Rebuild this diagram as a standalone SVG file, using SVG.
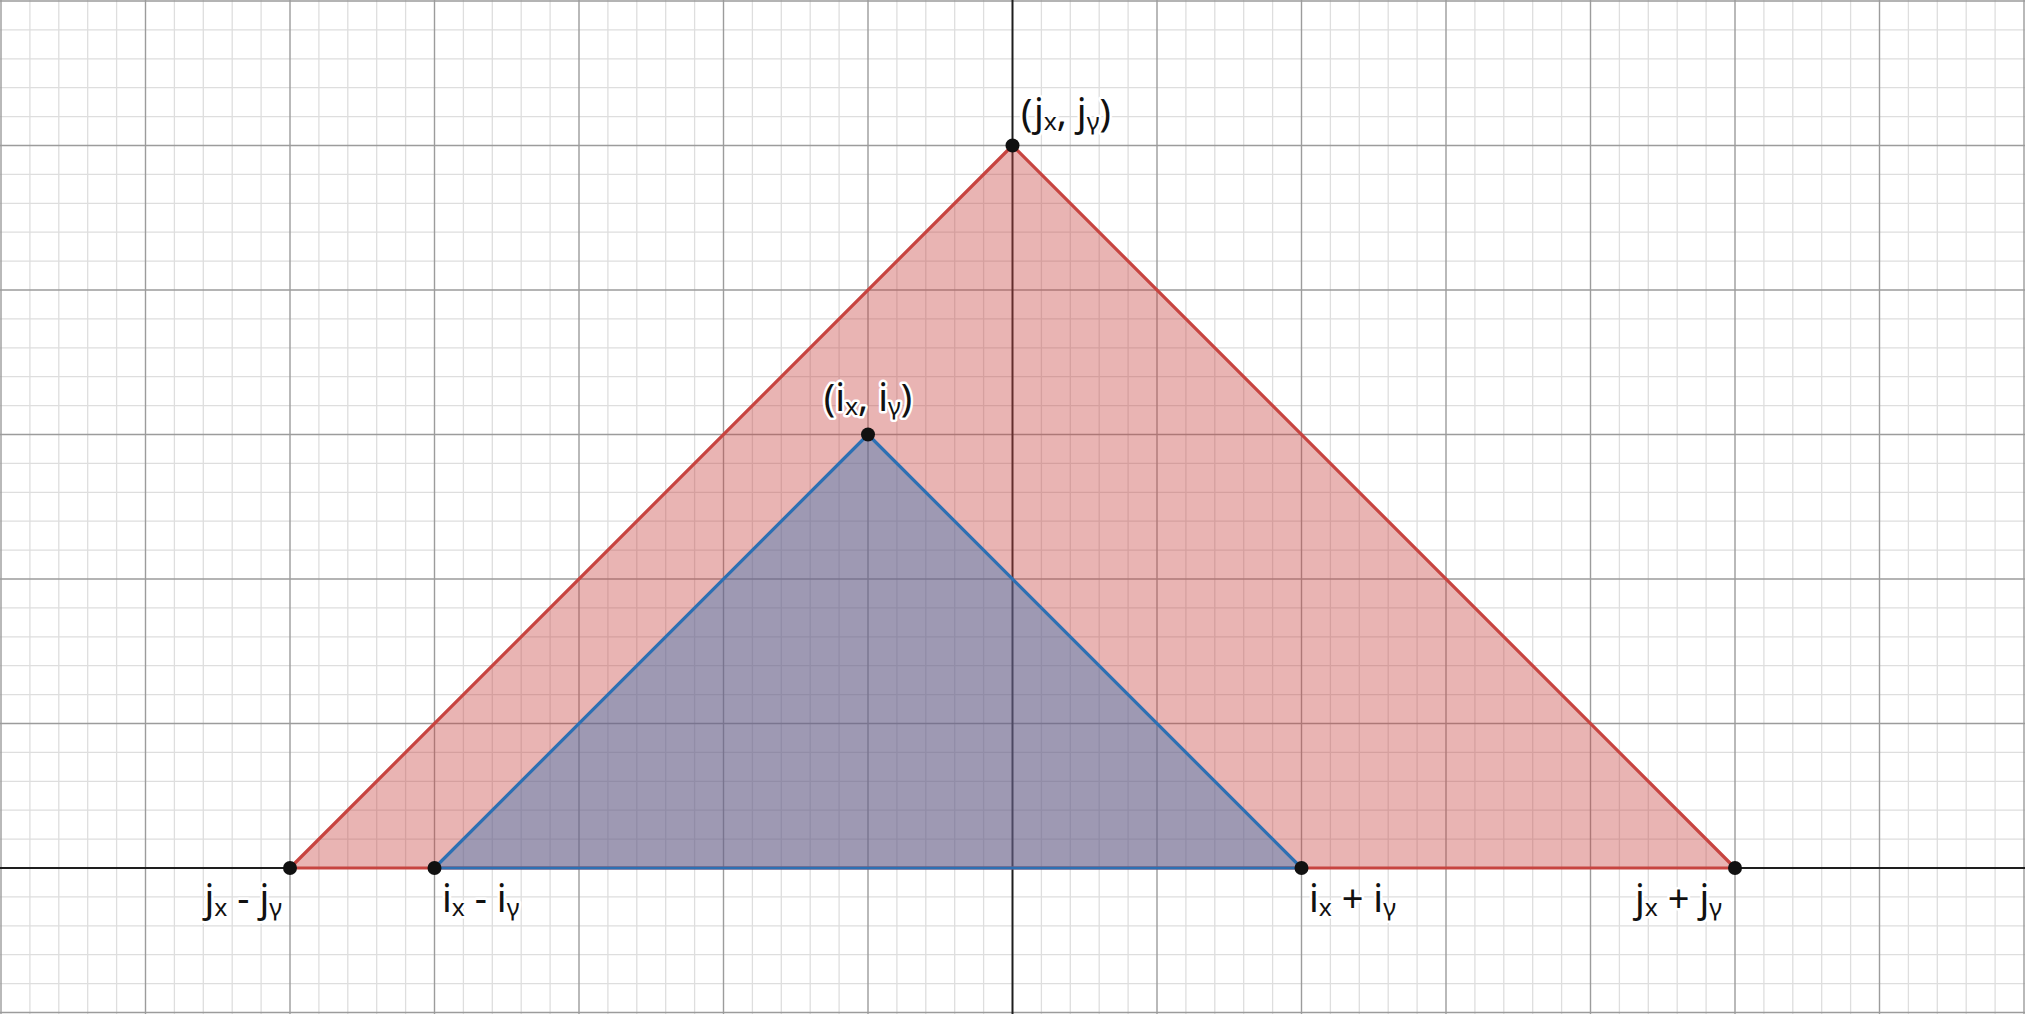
<svg xmlns="http://www.w3.org/2000/svg" width="2025" height="1014" viewBox="0 0 2025 1014">
<style>
.minor{stroke:#dedede;stroke-width:1.3;fill:none}
.major{stroke:#9c9c9c;stroke-width:1.4;fill:none}
.axis{stroke:#1e1e1e;stroke-width:2;fill:none}
.redf{fill:#c74440;fill-opacity:0.4;stroke:none}
.bluef{fill:#2d70b3;fill-opacity:0.4;stroke:none}
.red{stroke:#c74440;stroke-width:3.2;fill:none;stroke-linejoin:round}
.blue{stroke:#2d70b3;stroke-width:3.2;fill:none;stroke-linejoin:round}
.pt{fill:#111}
.lbl{font-family:"Noto Sans","DejaVu Sans",sans-serif;font-size:38px;fill:#111;stroke:#fff;stroke-width:5;stroke-linejoin:round;paint-order:stroke}
</style>
<rect x="0" y="0" width="2025" height="1014" fill="#fff"/>
<g id="grid">
<path class="minor" d="M29.9 0V1014M58.8 0V1014M87.7 0V1014M116.6 0V1014M174.4 0V1014M203.3 0V1014M232.2 0V1014M261.1 0V1014M318.9 0V1014M347.8 0V1014M376.7 0V1014M405.6 0V1014M463.4 0V1014M492.3 0V1014M521.2 0V1014M550.1 0V1014M607.9 0V1014M636.8 0V1014M665.7 0V1014M694.6 0V1014M752.4 0V1014M781.3 0V1014M810.2 0V1014M839.1 0V1014M896.9 0V1014M925.8 0V1014M954.7 0V1014M983.6 0V1014M1041.4 0V1014M1070.3 0V1014M1099.2 0V1014M1128.1 0V1014M1185.9 0V1014M1214.8 0V1014M1243.7 0V1014M1272.6 0V1014M1330.4 0V1014M1359.3 0V1014M1388.2 0V1014M1417.1 0V1014M1474.9 0V1014M1503.8 0V1014M1532.7 0V1014M1561.6 0V1014M1619.4 0V1014M1648.3 0V1014M1677.2 0V1014M1706.1 0V1014M1763.9 0V1014M1792.8 0V1014M1821.7 0V1014M1850.6 0V1014M1908.4 0V1014M1937.3 0V1014M1966.2 0V1014M1995.1 0V1014
M0 29.9H2025M0 58.8H2025M0 87.7H2025M0 116.6H2025M0 174.4H2025M0 203.3H2025M0 232.2H2025M0 261.1H2025M0 318.9H2025M0 347.8H2025M0 376.7H2025M0 405.6H2025M0 463.4H2025M0 492.3H2025M0 521.2H2025M0 550.1H2025M0 607.9H2025M0 636.8H2025M0 665.7H2025M0 694.6H2025M0 752.4H2025M0 781.3H2025M0 810.2H2025M0 839.1H2025M0 896.9H2025M0 925.8H2025M0 954.7H2025M0 983.6H2025"/>
<path class="major" d="M1 0V1014M145.5 0V1014M290 0V1014M434.5 0V1014M579 0V1014M723.5 0V1014M868 0V1014M1157 0V1014M1301.5 0V1014M1446 0V1014M1590.5 0V1014M1735 0V1014M1879.5 0V1014M2024 0V1014
M0 1H2025M0 145.5H2025M0 290H2025M0 434.5H2025M0 579H2025M0 723.5H2025M0 1012.5H2025"/>
<path class="axis" d="M1012.5 0V1014M0 868H2025"/>
</g>
<g id="fills">
<polygon class="redf" points="290,868 1012.5,145.5 1735,868"/>
<polygon class="bluef" points="434.5,868 868,434.5 1301.5,868"/>
</g>
<g id="connectors">
<polygon class="red" points="290,868 1012.5,145.5 1735,868"/>
<polygon class="blue" points="434.5,868 868,434.5 1301.5,868"/>
</g>
<g id="node-j">
<circle class="pt" cx="1012.5" cy="145.5" r="7"/>
<text class="lbl" x="1021" y="126">(jₓ, jᵧ)</text>
</g>
<g id="node-i">
<circle class="pt" cx="868" cy="434.5" r="7"/>
<text class="lbl" x="868" y="411" text-anchor="middle">(iₓ, iᵧ)</text>
</g>
<g id="node-j-minus">
<circle class="pt" cx="290" cy="868" r="7"/>
<text class="lbl" x="282" y="912" text-anchor="end">jₓ - jᵧ</text>
</g>
<g id="node-i-minus">
<circle class="pt" cx="434.5" cy="868" r="7"/>
<text class="lbl" x="442" y="912">iₓ - iᵧ</text>
</g>
<g id="node-i-plus">
<circle class="pt" cx="1301.5" cy="868" r="7"/>
<text class="lbl" x="1309" y="912">iₓ + iᵧ</text>
</g>
<g id="node-j-plus">
<circle class="pt" cx="1735" cy="868" r="7"/>
<text class="lbl" x="1722" y="912" text-anchor="end">jₓ + jᵧ</text>
</g>
</svg>
